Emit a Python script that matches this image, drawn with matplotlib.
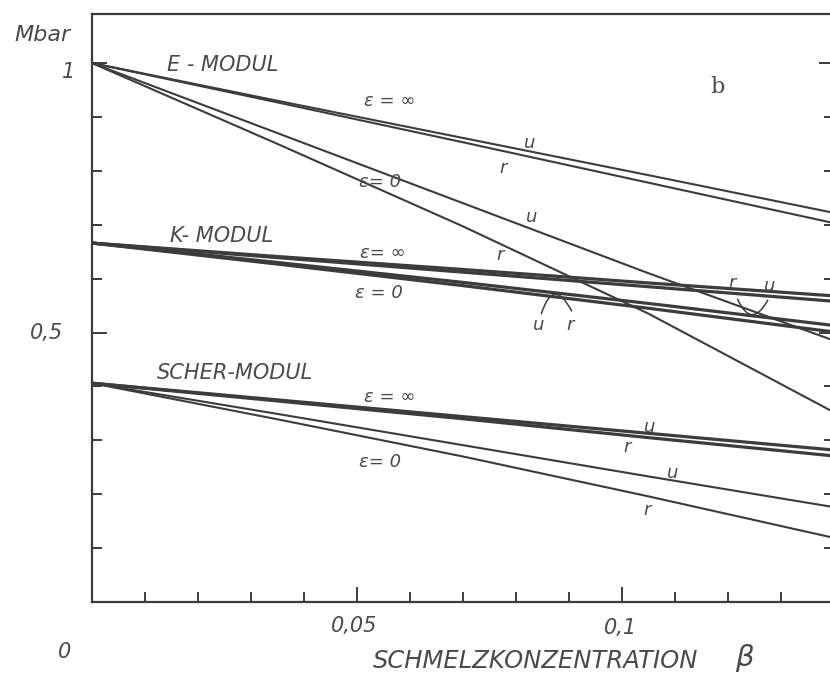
import matplotlib
matplotlib.use("Agg")
import matplotlib.pyplot as plt
from matplotlib.ticker import MultipleLocator, NullFormatter

# melt concentration beta and the moduli (Mbar), u / r bounds
beta = [0.0, 0.035, 0.07, 0.105, 0.14]

e_inf_u = [1.0, 0.930, 0.861, 0.792, 0.722]
e_inf_r = [1.0, 0.927, 0.853, 0.778, 0.703]
e_0_u = [1.0, 0.870, 0.740, 0.610, 0.485]
e_0_r = [1.0, 0.850, 0.697, 0.535, 0.352]

k_inf_u = [0.666, 0.641, 0.617, 0.592, 0.568]
k_inf_r = [0.666, 0.639, 0.612, 0.585, 0.558]
k_0_u = [0.666, 0.630, 0.593, 0.554, 0.513]
k_0_r = [0.666, 0.627, 0.587, 0.545, 0.501]

g_inf_u = [0.406, 0.375, 0.344, 0.313, 0.282]
g_inf_r = [0.406, 0.373, 0.340, 0.305, 0.271]
g_0_u = [0.406, 0.349, 0.291, 0.233, 0.176]
g_0_r = [0.406, 0.339, 0.270, 0.196, 0.119]

INK = "#3c3c3c"
TXT = "#4a4a4a"
lettering = dict(family="DejaVu Sans", style="italic", color=TXT)

fig = plt.figure(figsize=(8.3, 6.8), dpi=100)
ax = fig.add_axes([0.1108, 0.1147, 0.894, 0.8647])
ax.set_xlim(0, 0.14)
ax.set_ylim(0, 1.091)

thin = dict(color=INK, lw=1.5, solid_capstyle="butt")
thick = dict(color=INK, lw=2.3, solid_capstyle="butt")
for ys in (e_inf_u, e_inf_r, e_0_u, e_0_r, g_0_u, g_0_r):
    ax.plot(beta, ys, **thin)
for ys in (k_inf_u, k_inf_r, k_0_u, k_0_r, g_inf_u, g_inf_r):
    ax.plot(beta, ys, **thick)

# axes frame and inward ticks
for s in ax.spines.values():
    s.set_color(INK)
    s.set_linewidth(1.6)
ax.xaxis.set_major_locator(MultipleLocator(0.05))
ax.xaxis.set_minor_locator(MultipleLocator(0.01))
ax.yaxis.set_major_locator(MultipleLocator(0.5))
ax.yaxis.set_minor_locator(MultipleLocator(0.1))
ax.tick_params(which="both", direction="in", color=INK, width=1.4,
               left=True, right=True, bottom=True, top=False,
               labelleft=False, labelbottom=False)
ax.tick_params(which="major", length=11)
ax.tick_params(which="minor", length=7)
ax.xaxis.set_minor_formatter(NullFormatter())

# axis numbers
ax.text(-0.0094, 1.052, "Mbar", fontsize=16, ha="center", va="center", clip_on=False, **lettering)
ax.text(-0.0045, 0.983, "1", fontsize=15, ha="center", va="center", clip_on=False, **lettering)
ax.text(-0.0085, 0.499, "0,5", fontsize=15, ha="center", va="center", clip_on=False, **lettering)
ax.text(-0.0051, -0.093, "0", fontsize=15, ha="center", va="center", clip_on=False, **lettering)
ax.text(0.0494, -0.0445, "0,05", fontsize=15, ha="center", va="center", clip_on=False, **lettering)
ax.text(0.0998, -0.0475, "0,1", fontsize=15, ha="center", va="center", clip_on=False, **lettering)
ax.text(0.0836, -0.109, "SCHMELZKONZENTRATION", fontsize=17.5, ha="center", va="center",
        clip_on=False, **lettering)
ax.text(0.1232, -0.104, r"$\beta$", fontsize=21, ha="center", va="center", color=TXT, clip_on=False)

ax.text(0.1181, 0.955, "b", fontsize=16, ha="center", va="center", family="DejaVu Serif", color=TXT)

# curve labels
labels = [
    ("E - MODUL", 0.0247, 0.996, 15),
    ("K- MODUL", 0.0245, 0.679, 15),
    ("SCHER-MODUL", 0.0270, 0.425, 15),
    (r"ε = ∞", 0.0562, 0.929, 13),
    (r"ε= 0", 0.0543, 0.779, 13),
    (r"ε= ∞", 0.0549, 0.647, 13),
    (r"ε = 0", 0.0542, 0.573, 13),
    (r"ε = ∞", 0.0562, 0.380, 13),
    (r"ε= 0", 0.0543, 0.260, 13),
    ("u", 0.0826, 0.852, 13), ("r", 0.0775, 0.805, 13),
    ("u", 0.0830, 0.714, 13), ("r", 0.0770, 0.644, 13),
    ("u", 0.0842, 0.514, 13), ("r", 0.0902, 0.514, 13),
    ("r", 0.1208, 0.592, 13), ("u", 0.1279, 0.586, 13),
    ("u", 0.1053, 0.325, 13), ("r", 0.1009, 0.288, 13),
    ("u", 0.1096, 0.239, 13), ("r", 0.1047, 0.171, 13),
]
for s, x, y, fs in labels:
    ax.text(x, y, s, fontsize=fs, ha="center", va="center", **lettering)

# little loops tying the u / r letters to the K-modulus curves
ax.annotate("", xy=(0.0905, 0.540), xytext=(0.0848, 0.535),
            arrowprops=dict(arrowstyle="-", color=INK, lw=1.1,
                            connectionstyle="arc3,rad=-1.2", shrinkA=0, shrinkB=0))
ax.annotate("", xy=(0.1275, 0.560), xytext=(0.1218, 0.562),
            arrowprops=dict(arrowstyle="-", color=INK, lw=1.1,
                            connectionstyle="arc3,rad=1.0", shrinkA=0, shrinkB=0))

fig.savefig("out.png", dpi=100)
